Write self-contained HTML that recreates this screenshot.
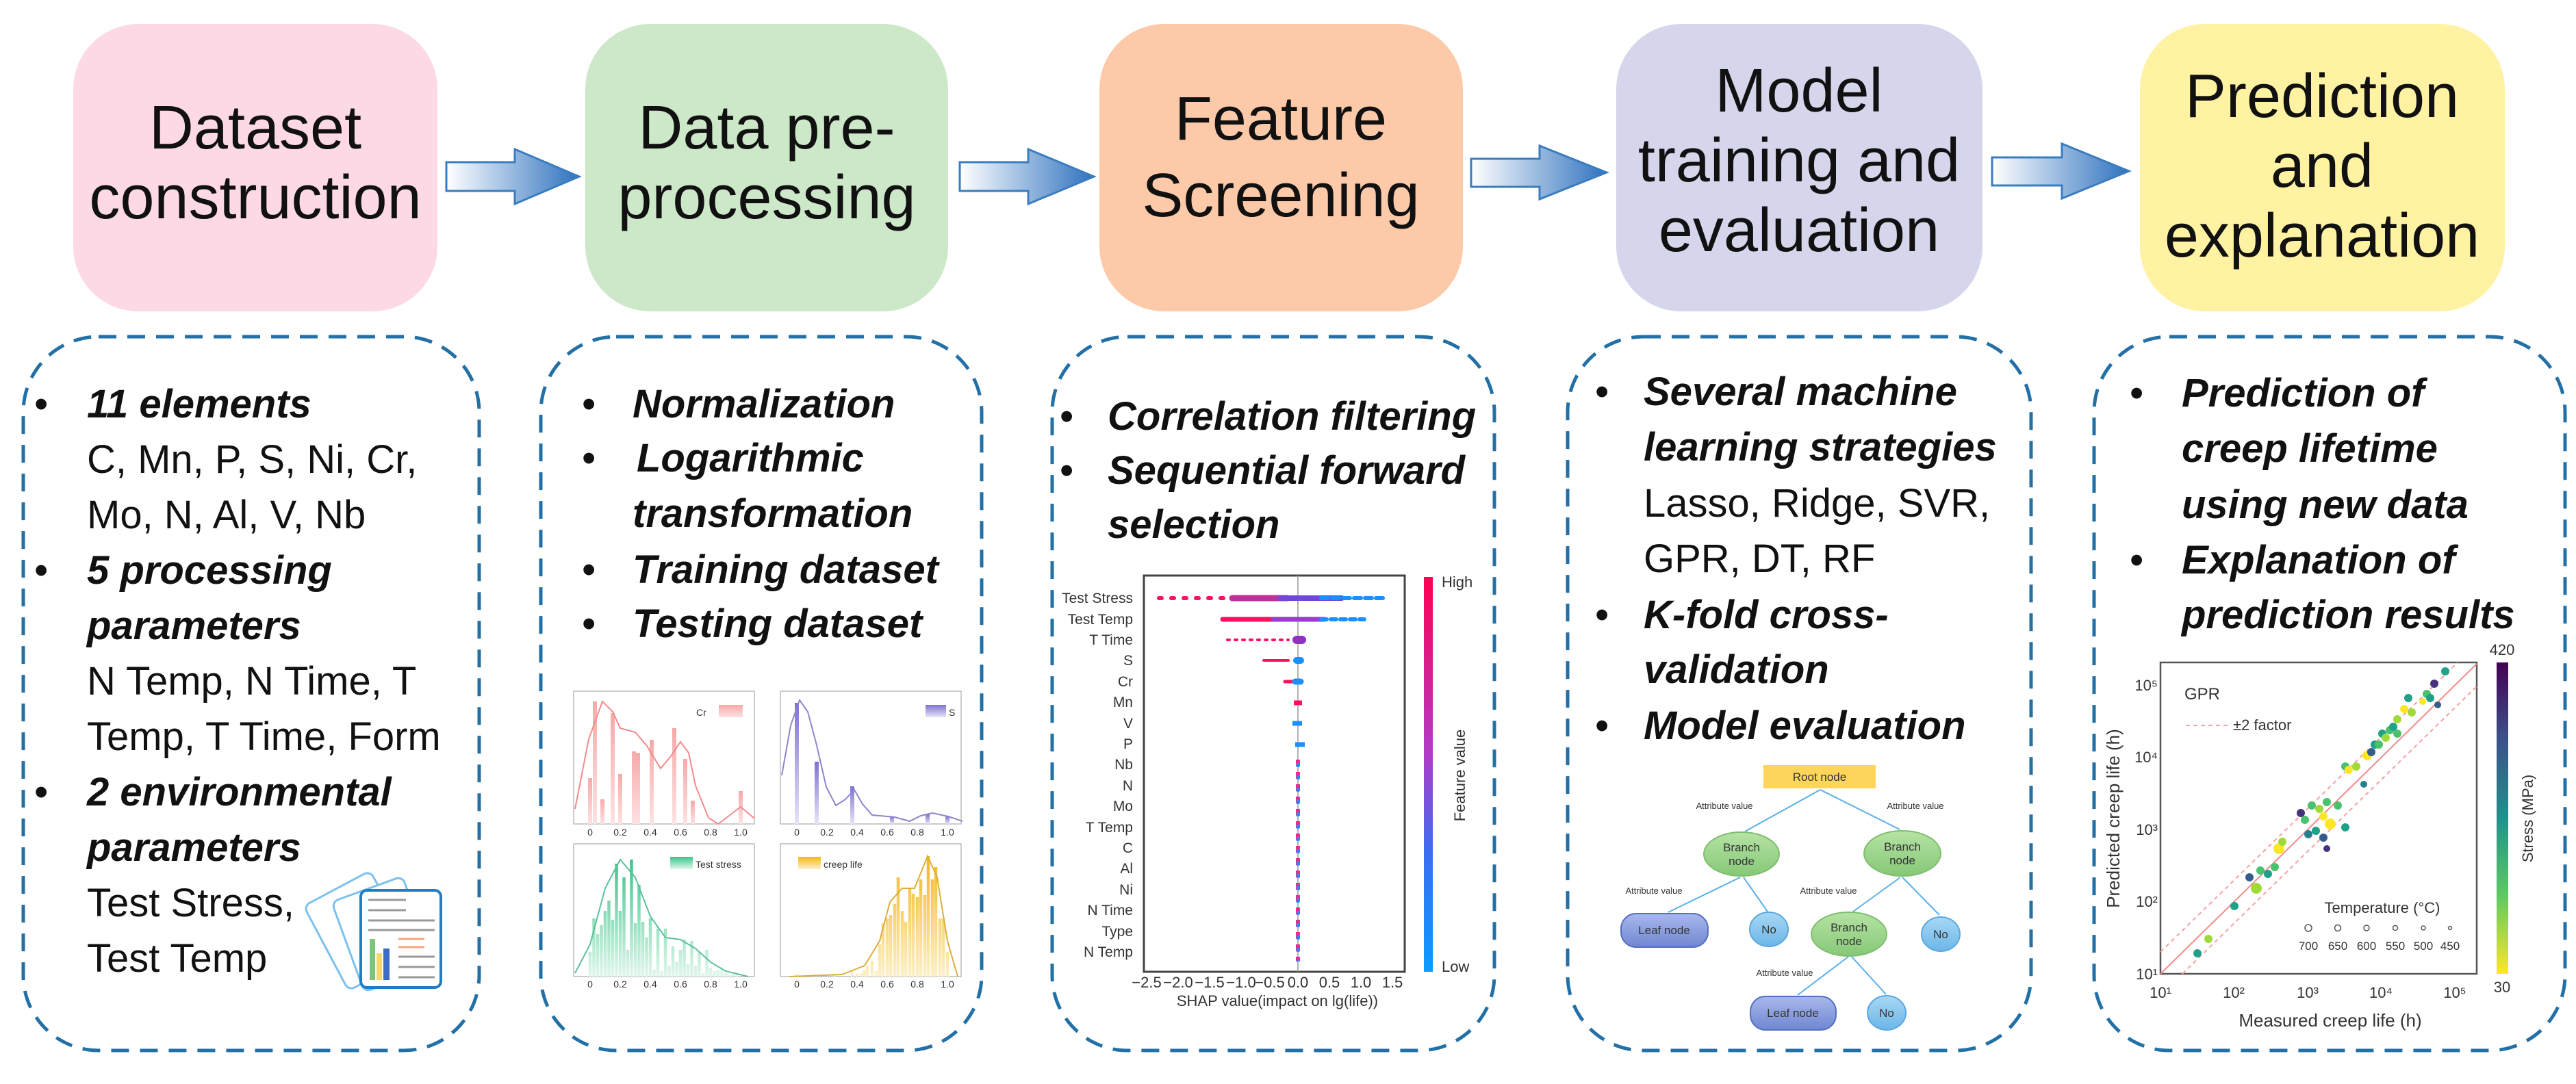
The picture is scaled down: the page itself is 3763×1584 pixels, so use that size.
<!DOCTYPE html>
<html><head><meta charset="utf-8"><style>
html,body{margin:0;padding:0;background:#fff;}
svg{display:block;}
.t{font-family:"Liberation Sans",sans-serif;font-size:90px;fill:#111;text-anchor:middle;}
.b{font-family:"Liberation Sans",sans-serif;font-size:58px;fill:#111;}
.bi{font-weight:bold;font-style:italic;}
.s{font-family:"Liberation Sans",sans-serif;fill:#333;}
</style></head><body>
<svg width="3763" height="1584" viewBox="0 0 3763 1584" xmlns="http://www.w3.org/2000/svg">
<defs>
<linearGradient id="ag" x1="0" x2="1" y1="0" y2="0"><stop offset="0" stop-color="#fff"/><stop offset="1" stop-color="#2f72bf"/></linearGradient>
<linearGradient id="fv" x1="0" x2="0" y1="0" y2="1"><stop offset="0" stop-color="#ff0052"/><stop offset="0.45" stop-color="#b03cc8"/><stop offset="0.7" stop-color="#3a6ef0"/><stop offset="1" stop-color="#0a9cff"/></linearGradient>
<linearGradient id="vir" x1="0" x2="0" y1="0" y2="1"><stop offset="0" stop-color="#440154"/><stop offset="0.25" stop-color="#3b528b"/><stop offset="0.5" stop-color="#21918c"/><stop offset="0.75" stop-color="#5ec962"/><stop offset="1" stop-color="#fde725"/></linearGradient>
<linearGradient id="gp" x1="0" x2="0" y1="0" y2="1"><stop offset="0" stop-color="#f7a9a9"/><stop offset="1" stop-color="#fde2e2"/></linearGradient>
<linearGradient id="gs" x1="0" x2="0" y1="0" y2="1"><stop offset="0" stop-color="#7d74d0"/><stop offset="1" stop-color="#e6e3f7"/></linearGradient>
<linearGradient id="gg" x1="0" x2="0" y1="0" y2="1"><stop offset="0" stop-color="#3cc48a"/><stop offset="1" stop-color="#e1f7ec"/></linearGradient>
<linearGradient id="gy" x1="0" x2="0" y1="0" y2="1"><stop offset="0" stop-color="#f3b820"/><stop offset="1" stop-color="#fdf0c8"/></linearGradient>
<linearGradient id="gl" x1="0" x2="0" y1="0" y2="1"><stop offset="0" stop-color="#a9b8ec"/><stop offset="1" stop-color="#6f86d2"/></linearGradient>
<linearGradient id="gb" x1="0" x2="0" y1="0" y2="1"><stop offset="0" stop-color="#a8d8f4"/><stop offset="1" stop-color="#6cb6e8"/></linearGradient>
<linearGradient id="gn" x1="0" x2="0" y1="0" y2="1"><stop offset="0" stop-color="#b6e3a4"/><stop offset="1" stop-color="#86c877"/></linearGradient>
</defs>

<!-- top boxes -->
<rect x="107" y="35" width="532" height="420" rx="95" fill="#fdd9e5"/>
<rect x="855" y="35" width="530" height="420" rx="95" fill="#cde8c9"/>
<rect x="1606" y="35" width="531" height="420" rx="95" fill="#fdcaa9"/>
<rect x="2361" y="35" width="535" height="420" rx="95" fill="#d5d5ec"/>
<rect x="3126" y="35" width="533" height="420" rx="95" fill="#fff2a3"/>

<text class="t" x="373" y="217">Dataset</text><text class="t" x="373" y="319">construction</text>
<text class="t" x="1120" y="217">Data pre-</text><text class="t" x="1120" y="319">processing</text>
<text class="t" x="1871" y="204">Feature</text><text class="t" x="1871" y="316">Screening</text>
<text class="t" x="2628" y="163">Model</text><text class="t" x="2628" y="265">training and</text><text class="t" x="2628" y="367">evaluation</text>
<text class="t" x="3392" y="171">Prediction</text><text class="t" x="3392" y="273">and</text><text class="t" x="3392" y="375">explanation</text>

<!-- arrows -->
<g fill="url(#ag)" stroke="#3a7dbf" stroke-width="3">
<path d="M652 237 H752 V218 L846 258 L752 298 V279 H652 Z"/>
<path d="M1402 237 H1502 V218 L1598 258 L1502 298 V279 H1402 Z"/>
<path d="M2149 232 H2249 V213 L2347 252 L2249 291 V273 H2149 Z"/>
<path d="M2910 230 H3012 V210 L3110 250 L3012 290 V271 H2910 Z"/>
</g>

<!-- dashed boxes -->
<g fill="none" stroke="#2270a5" stroke-width="5" stroke-dasharray="26 16">
<rect x="34" y="492" width="666" height="1043" rx="110"/>
<rect x="790" y="492" width="644" height="1043" rx="110"/>
<rect x="1537" y="492" width="646" height="1043" rx="110"/>
<rect x="2290" y="492" width="677" height="1043" rx="110"/>
<rect x="3059" y="492" width="688" height="1043" rx="110"/>
</g>

<!-- col1 text -->
<g class="b">
<text x="50" y="610">•</text><text class="bi" x="127" y="610">11 elements</text>
<text x="127" y="691">C, Mn, P, S, Ni, Cr,</text>
<text x="127" y="772">Mo, N, Al, V, Nb</text>
<text x="50" y="853">•</text><text class="bi" x="127" y="853">5 processing</text>
<text class="bi" x="127" y="934">parameters</text>
<text x="127" y="1015">N Temp, N Time, T</text>
<text x="127" y="1096">Temp, T Time, Form</text>
<text x="50" y="1177">•</text><text class="bi" x="127" y="1177">2 environmental</text>
<text class="bi" x="127" y="1258">parameters</text>
<text x="127" y="1339">Test Stress,</text>
<text x="127" y="1420">Test Temp</text>
</g>
<!-- doc icon -->
<g fill="#fff" stroke="#7cc0ee" stroke-width="3">
<rect x="470" y="1290" width="110" height="140" rx="10" transform="rotate(-28 525 1360)"/>
<rect x="505" y="1295" width="110" height="140" rx="10" transform="rotate(-20 560 1365)"/>
</g>
<rect x="527" y="1301" width="117" height="142" rx="9" fill="#fff" stroke="#1f7cc8" stroke-width="4"/>
<g stroke="#999" stroke-width="3"><line x1="538" y1="1315" x2="593" y2="1315"/><line x1="538" y1="1330" x2="593" y2="1330"/><line x1="538" y1="1345" x2="635" y2="1345"/><line x1="538" y1="1359" x2="635" y2="1359"/><line x1="582" y1="1398" x2="635" y2="1398"/><line x1="582" y1="1413" x2="635" y2="1413"/><line x1="582" y1="1428" x2="635" y2="1428"/></g>
<g stroke="#f6a57a" stroke-width="3"><line x1="582" y1="1372" x2="620" y2="1372"/><line x1="582" y1="1384" x2="620" y2="1384"/></g>
<rect x="540" y="1372" width="8" height="60" fill="#7cc47a"/><rect x="550" y="1393" width="8" height="39" fill="#f6d96a"/><rect x="560" y="1386" width="9" height="46" fill="#3a6cc8"/>

<!-- col2 text -->
<g class="b">
<text x="850" y="610">•</text><text class="bi" x="924" y="610">Normalization</text>
<text x="850" y="689">•</text><text class="bi" x="930" y="689">Logarithmic</text>
<text class="bi" x="924" y="770">transformation</text>
<text x="850" y="852">•</text><text class="bi" x="924" y="852">Training dataset</text>
<text x="850" y="931">•</text><text class="bi" x="924" y="931">Testing dataset</text>
</g>
<!-- histograms -->
<g fill="none" stroke="#bbb" stroke-width="1.5">
<rect x="838" y="1010" width="264" height="194"/><rect x="1140" y="1010" width="264" height="194"/>
<rect x="838" y="1233" width="264" height="194"/><rect x="1140" y="1233" width="264" height="194"/>
</g>
<g fill="url(#gp)">
<rect x="859" y="1137" width="6" height="67"/><rect x="866" y="1025" width="6" height="179"/><rect x="877" y="1168" width="6" height="36"/><rect x="892" y="1042" width="6" height="162"/><rect x="903" y="1131" width="6" height="73"/><rect x="923" y="1098" width="6" height="106"/><rect x="929" y="1100" width="6" height="104"/><rect x="949" y="1081" width="6" height="123"/><rect x="982" y="1064" width="6" height="140"/><rect x="998" y="1109" width="6" height="95"/><rect x="1009" y="1170" width="6" height="34"/><rect x="1079" y="1156" width="6" height="48"/>
<rect x="1050" y="1030" width="35" height="18"/>
</g>
<polyline fill="none" stroke="#f58a8a" stroke-width="2" points="840,1182 860,1080 880,1025 895,1040 906,1064 928,1070 945,1090 965,1123 980,1105 994,1084 1006,1100 1016,1148 1035,1195 1049,1204 1065,1192 1082,1179 1102,1196"/>
<g fill="url(#gs)">
<rect x="1161" y="1027" width="6" height="177"/><rect x="1190" y="1113" width="6" height="91"/><rect x="1242" y="1149" width="6" height="55"/><rect x="1300" y="1193" width="6" height="11"/><rect x="1352" y="1190" width="6" height="14"/><rect x="1381" y="1193" width="6" height="11"/>
<rect x="1352" y="1030" width="30" height="18"/>
</g>
<polyline fill="none" stroke="#8d86cc" stroke-width="2" points="1142,1133 1155,1060 1168,1023 1180,1040 1193,1089 1207,1150 1221,1177 1235,1168 1248,1154 1260,1175 1274,1191 1307,1194 1329,1200 1345,1192 1362,1188 1385,1193 1406,1200"/>
<g stroke="url(#gg)" stroke-width="4.5" fill="none"><path d="M862 1427V1391M867.5 1427V1342M873 1427V1365M878.5 1427V1352M884 1427V1331M889.5 1427V1316M895 1427V1344M900.5 1427V1262M906 1427V1331M911.5 1427V1282M917 1427V1388M922.5 1427V1256M928 1427V1349M933.5 1427V1293M939 1427V1347M944.5 1427V1370M950 1427V1342M955.5 1427V1417M961 1427V1357M966.5 1427V1419M972 1427V1357M977.5 1427V1411M983 1427V1383M988.5 1427V1406M994 1427V1388M999.5 1427V1373M1005 1427V1409M1010.5 1427V1375M1016 1427V1411M1021.5 1427V1391M1027 1427V1422M1032.5 1427V1388M1038 1427V1414M1043.5 1427V1419M1049 1427V1417M1054.5 1427V1417M1060 1427V1422M1065.5 1427V1424M1071 1427V1422M1076.5 1427V1424"/></g>
<rect x="979" y="1252" width="33" height="18" fill="url(#gg)"/>
<polyline fill="none" stroke="#5cc09a" stroke-width="2" points="840,1422 862,1380 884,1298 906,1256 928,1282 950,1339 972,1370 994,1373 1016,1386 1038,1406 1060,1419 1093,1427"/>
<g stroke="url(#gy)" stroke-width="4.5" fill="none"><path d="M1164 1427V1423M1191 1427V1423M1219 1427V1423M1245 1427V1417M1252 1427V1422M1259 1427V1422M1263 1427V1417M1267 1427V1411M1274 1427V1404M1280 1427V1419M1285 1427V1380M1290 1427V1349M1296 1427V1342M1301 1427V1337M1307 1427V1321M1312 1427V1282M1318 1427V1331M1323 1427V1347M1329 1427V1298M1334 1427V1306M1340 1427V1311M1345 1427V1285M1351 1427V1308M1356 1427V1251M1362 1427V1285M1367 1427V1267M1373 1427V1342M1378 1427V1342M1384 1427V1391"/></g>
<rect x="1166" y="1252" width="33" height="18" fill="url(#gy)"/>
<polyline fill="none" stroke="#dcae3a" stroke-width="2" points="1153,1427 1230,1424 1263,1411 1285,1375 1300,1318 1318,1298 1336,1298 1355,1251 1369,1282 1384,1375 1399,1427"/>
<g class="s" font-size="14">
<text x="1017" y="1046">Cr</text><text x="1386" y="1046">S</text><text x="1016" y="1268">Test stress</text><text x="1203" y="1268">creep life</text>
<g text-anchor="middle"><text x="862" y="1221">0</text><text x="906" y="1221">0.2</text><text x="950" y="1221">0.4</text><text x="994" y="1221">0.6</text><text x="1038" y="1221">0.8</text><text x="1082" y="1221">1.0</text>
<text x="1164" y="1221">0</text><text x="1208" y="1221">0.2</text><text x="1252" y="1221">0.4</text><text x="1296" y="1221">0.6</text><text x="1340" y="1221">0.8</text><text x="1384" y="1221">1.0</text>
<text x="862" y="1443">0</text><text x="906" y="1443">0.2</text><text x="950" y="1443">0.4</text><text x="994" y="1443">0.6</text><text x="1038" y="1443">0.8</text><text x="1082" y="1443">1.0</text>
<text x="1164" y="1443">0</text><text x="1208" y="1443">0.2</text><text x="1252" y="1443">0.4</text><text x="1296" y="1443">0.6</text><text x="1340" y="1443">0.8</text><text x="1384" y="1443">1.0</text></g>
</g>

<!-- col3 text -->
<g class="b">
<text x="1548" y="628">•</text><text class="bi" x="1618" y="628">Correlation filtering</text>
<text x="1548" y="707">•</text><text class="bi" x="1618" y="707">Sequential forward</text>
<text class="bi" x="1618" y="786">selection</text>
</g>
<!-- SHAP -->
<rect x="1671" y="841" width="381" height="579" fill="#fff" stroke="#444" stroke-width="3"/>
<line x1="1896" y1="841" x2="1896" y2="1420" stroke="#999" stroke-width="1.5"/>
<g stroke-width="6" stroke-linecap="round">
<line x1="1693" y1="874" x2="1850" y2="874" stroke="#ff1060" stroke-dasharray="4 14"/>
<line x1="1800" y1="874" x2="1880" y2="874" stroke="#c0309a" stroke-width="9"/>
<line x1="1870" y1="874" x2="1960" y2="874" stroke="#7048d8" stroke-width="8"/>
<line x1="1930" y1="874" x2="2025" y2="874" stroke="#1a90ff" stroke-dasharray="10 6"/>
<line x1="1786" y1="905" x2="1870" y2="905" stroke="#ff1060" stroke-width="7"/>
<line x1="1860" y1="905" x2="1935" y2="905" stroke="#9a3ccc" stroke-width="7"/>
<line x1="1930" y1="905" x2="1993" y2="905" stroke="#1a90ff" stroke-dasharray="8 6"/>
<line x1="1793" y1="935" x2="1882" y2="935" stroke="#ff1060" stroke-width="4" stroke-dasharray="3 8"/>
<line x1="1894" y1="935" x2="1902" y2="935" stroke="#9030c8" stroke-width="12"/>
<line x1="1846" y1="965" x2="1882" y2="965" stroke="#ff1060" stroke-width="4"/>
<line x1="1894" y1="965" x2="1900" y2="965" stroke="#1a90ff" stroke-width="10"/>
<line x1="1877" y1="996" x2="1896" y2="996" stroke="#ff1060" stroke-width="5"/>
<line x1="1892" y1="996" x2="1900" y2="996" stroke="#1a90ff" stroke-width="9"/>
</g>
<g stroke-width="7">
<line x1="1890" y1="1027" x2="1902" y2="1027" stroke="#ff1060"/>
<line x1="1888" y1="1057" x2="1902" y2="1057" stroke="#1a90ff"/>
<line x1="1892" y1="1088" x2="1906" y2="1088" stroke="#1a90ff"/>
</g>
<line x1="1896" y1="1110" x2="1896" y2="1405" stroke="#e03090" stroke-width="6" stroke-dasharray="10 8"/>
<line x1="1896" y1="1115" x2="1896" y2="1405" stroke="#2a8cff" stroke-width="4" stroke-dasharray="6 12"/>
<g class="s" font-size="21" text-anchor="end">
<text x="1655" y="881">Test Stress</text><text x="1655" y="912">Test Temp</text><text x="1655" y="942">T Time</text><text x="1655" y="972">S</text><text x="1655" y="1003">Cr</text><text x="1655" y="1033">Mn</text><text x="1655" y="1064">V</text><text x="1655" y="1094">P</text><text x="1655" y="1124">Nb</text><text x="1655" y="1155">N</text><text x="1655" y="1185">Mo</text><text x="1655" y="1216">T Temp</text><text x="1655" y="1246">C</text><text x="1655" y="1276">Al</text><text x="1655" y="1307">Ni</text><text x="1655" y="1337">N Time</text><text x="1655" y="1368">Type</text><text x="1655" y="1398">N Temp</text>
</g>
<g class="s" font-size="22" text-anchor="middle">
<text x="1675" y="1443">−2.5</text><text x="1721" y="1443">−2.0</text><text x="1767" y="1443">−1.5</text><text x="1813" y="1443">−1.0</text><text x="1855" y="1443">−0.5</text><text x="1896" y="1443">0.0</text><text x="1942" y="1443">0.5</text><text x="1988" y="1443">1.0</text><text x="2034" y="1443">1.5</text>
<text x="1866" y="1470">SHAP value(impact on lg(life))</text>
</g>
<rect x="2080" y="843" width="13" height="577" fill="url(#fv)"/>
<g class="s" font-size="22"><text x="2106" y="858">High</text><text x="2106" y="1420">Low</text>
<text transform="translate(2140 1133) rotate(-90)" text-anchor="middle">Feature value</text></g>

<!-- col4 text -->
<g class="b">
<text x="2330" y="592">•</text><text class="bi" x="2401" y="592">Several machine</text>
<text class="bi" x="2401" y="673">learning strategies</text>
<text x="2401" y="755">Lasso, Ridge, SVR,</text>
<text x="2401" y="836">GPR, DT, RF</text>
<text x="2330" y="918">•</text><text class="bi" x="2401" y="918">K-fold cross-</text>
<text class="bi" x="2401" y="998">validation</text>
<text x="2330" y="1080">•</text><text class="bi" x="2401" y="1080">Model evaluation</text>
</g>
<!-- tree -->
<g stroke="#5ab0e8" stroke-width="2" fill="none">
<line x1="2659" y1="1154" x2="2549" y2="1215"/><line x1="2659" y1="1154" x2="2775" y2="1212"/>
<line x1="2542" y1="1282" x2="2437" y2="1333"/><line x1="2547" y1="1282" x2="2582" y2="1332"/>
<line x1="2776" y1="1282" x2="2707" y2="1332"/><line x1="2779" y1="1282" x2="2833" y2="1337"/>
<line x1="2700" y1="1398" x2="2626" y2="1454"/><line x1="2705" y1="1398" x2="2755" y2="1453"/>
</g>
<rect x="2576" y="1118" width="164" height="34" fill="#fdd55a"/>
<g fill="url(#gn)" stroke="#7dbf6e" stroke-width="2">
<ellipse cx="2544" cy="1248" rx="55" ry="32"/><ellipse cx="2779" cy="1247" rx="56" ry="33"/><ellipse cx="2701" cy="1365" rx="55" ry="32"/></g>
<g fill="url(#gl)" stroke="#5470c0" stroke-width="2">
<rect x="2368" y="1335" width="127" height="49" rx="22"/><rect x="2557" y="1456" width="125" height="49" rx="22"/></g>
<g fill="url(#gb)" stroke="#5aa8e0" stroke-width="2">
<ellipse cx="2584" cy="1358" rx="28" ry="25"/><ellipse cx="2835" cy="1365" rx="28" ry="25"/><ellipse cx="2756" cy="1480" rx="28" ry="25"/></g>
<g class="s" font-size="17" text-anchor="middle" fill="#111">
<text x="2658" y="1141">Root node</text>
<text x="2544" y="1244">Branch</text><text x="2544" y="1264">node</text>
<text x="2779" y="1243">Branch</text><text x="2779" y="1263">node</text>
<text x="2701" y="1361">Branch</text><text x="2701" y="1381">node</text>
<text x="2431" y="1365">Leaf node</text><text x="2619" y="1486">Leaf node</text>
<text x="2584" y="1364">No</text><text x="2835" y="1371">No</text><text x="2756" y="1486">No</text>
</g>
<g class="s" font-size="13" text-anchor="middle" fill="#555">
<text x="2519" y="1182">Attribute value</text><text x="2798" y="1182">Attribute value</text><text x="2416" y="1306">Attribute value</text><text x="2671" y="1306">Attribute value</text><text x="2607" y="1426">Attribute value</text>
</g>

<!-- col5 text -->
<g class="b">
<text x="3111" y="594">•</text><text class="bi" x="3187" y="594">Prediction of</text>
<text class="bi" x="3187" y="675">creep lifetime</text>
<text class="bi" x="3187" y="757">using new data</text>
<text x="3111" y="838">•</text><text class="bi" x="3187" y="838">Explanation of</text>
<text class="bi" x="3187" y="918">prediction results</text>
</g>
<!-- scatter -->
<rect x="3156" y="968" width="462" height="455" fill="#fff" stroke="#555" stroke-width="2.5"/>
<line x1="3156" y1="1423" x2="3618" y2="970" stroke="#f58a8a" stroke-width="2"/>
<g stroke="#f8a0a0" stroke-width="2" stroke-dasharray="6 5">
<line x1="3156" y1="1391" x2="3590" y2="968"/><line x1="3188" y1="1423" x2="3618" y2="1003"/>
<line x1="3193" y1="1060" x2="3254" y2="1060"/></g>
<g transform="translate(-17 0)">
<circle cx="3227" cy="1393" r="6" fill="#1fa187"/><circle cx="3243" cy="1372" r="6" fill="#a0da39"/><circle cx="3281" cy="1324" r="6" fill="#1fa187"/><circle cx="3313" cy="1298" r="8" fill="#a0da39"/><circle cx="3303" cy="1282" r="6" fill="#365c8d"/><circle cx="3319" cy="1272" r="6" fill="#4ac16d"/><circle cx="3330" cy="1277" r="6" fill="#1fa187"/><circle cx="3340" cy="1267" r="6" fill="#4ac16d"/><circle cx="3346" cy="1240" r="8" fill="#fde725"/><circle cx="3351" cy="1230" r="6" fill="#a0da39"/><circle cx="3378" cy="1188" r="6" fill="#46327e"/><circle cx="3384" cy="1198" r="6" fill="#4ac16d"/><circle cx="3389" cy="1219" r="6" fill="#277f8e"/><circle cx="3400" cy="1214" r="6" fill="#1fa187"/><circle cx="3394" cy="1177" r="6" fill="#4ac16d"/><circle cx="3405" cy="1182" r="6" fill="#a0da39"/><circle cx="3411" cy="1193" r="6" fill="#fde725"/><circle cx="3416" cy="1172" r="6" fill="#4ac16d"/><circle cx="3421" cy="1204" r="8" fill="#fde725"/><circle cx="3411" cy="1224" r="6" fill="#365c8d"/><circle cx="3416" cy="1240" r="5" fill="#46327e"/><circle cx="3443" cy="1209" r="6" fill="#1fa187"/><circle cx="3432" cy="1177" r="6" fill="#4ac16d"/><circle cx="3443" cy="1120" r="6" fill="#4ac16d"/><circle cx="3448" cy="1125" r="6" fill="#fde725"/><circle cx="3459" cy="1120" r="6" fill="#a0da39"/><circle cx="3470" cy="1146" r="5" fill="#277f8e"/><circle cx="3475" cy="1104" r="7" fill="#fde725"/><circle cx="3481" cy="1099" r="6" fill="#365c8d"/><circle cx="3486" cy="1088" r="6" fill="#1fa187"/><circle cx="3492" cy="1088" r="6" fill="#4ac16d"/><circle cx="3497" cy="1072" r="6" fill="#1fa187"/><circle cx="3502" cy="1078" r="6" fill="#a0da39"/><circle cx="3508" cy="1067" r="6" fill="#4ac16d"/><circle cx="3513" cy="1062" r="6" fill="#1fa187"/><circle cx="3519" cy="1051" r="6" fill="#a0da39"/><circle cx="3519" cy="1072" r="6" fill="#4ac16d"/><circle cx="3529" cy="1036" r="6" fill="#fde725"/><circle cx="3540" cy="1041" r="6" fill="#a0da39"/><circle cx="3535" cy="1020" r="6" fill="#1fa187"/><circle cx="3556" cy="1025" r="5" fill="#fde725"/><circle cx="3562" cy="1014" r="6" fill="#4ac16d"/><circle cx="3567" cy="1020" r="6" fill="#1fa187"/><circle cx="3573" cy="999" r="6" fill="#46327e"/><circle cx="3578" cy="1030" r="5" fill="#365c8d"/><circle cx="3589" cy="981" r="6" fill="#1fa187"/>
</g>
<g fill="none" stroke="#555" stroke-width="1.5"><circle cx="3372" cy="1356" r="5"/><circle cx="3415" cy="1356" r="4.5"/><circle cx="3457" cy="1356" r="4"/><circle cx="3499" cy="1356" r="3.5"/><circle cx="3540" cy="1356" r="3"/><circle cx="3579" cy="1356" r="2.5"/></g>
<rect x="3647" y="968" width="17" height="455" fill="url(#vir)"/>
<g class="s" font-size="22" fill="#222">
<text x="3191" y="1022" font-size="24">GPR</text><text x="3262" y="1067">±2 factor</text>
<text x="3480" y="1334" text-anchor="middle">Temperature (°C)</text>
<g text-anchor="middle" font-size="17"><text x="3372" y="1388">700</text><text x="3415" y="1388">650</text><text x="3457" y="1388">600</text><text x="3499" y="1388">550</text><text x="3540" y="1388">500</text><text x="3579" y="1388">450</text></g>
<g text-anchor="middle"><text x="3156" y="1458">10¹</text><text x="3263" y="1458">10²</text><text x="3371" y="1458">10³</text><text x="3478" y="1458">10⁴</text><text x="3586" y="1458">10⁵</text></g>
<g text-anchor="end"><text x="3152" y="1431">10¹</text><text x="3152" y="1325">10²</text><text x="3152" y="1220">10³</text><text x="3152" y="1114">10⁴</text><text x="3152" y="1009">10⁵</text></g>
<text x="3655" y="957" text-anchor="middle">420</text><text x="3655" y="1450" text-anchor="middle">30</text>
<text x="3404" y="1500" text-anchor="middle" font-size="26">Measured creep life (h)</text>
<text transform="translate(3096 1196) rotate(-90)" text-anchor="middle" font-size="26">Predicted creep life (h)</text>
<text transform="translate(3700 1196) rotate(-90)" text-anchor="middle">Stress (MPa)</text>
</g>
</svg>
</body></html>
